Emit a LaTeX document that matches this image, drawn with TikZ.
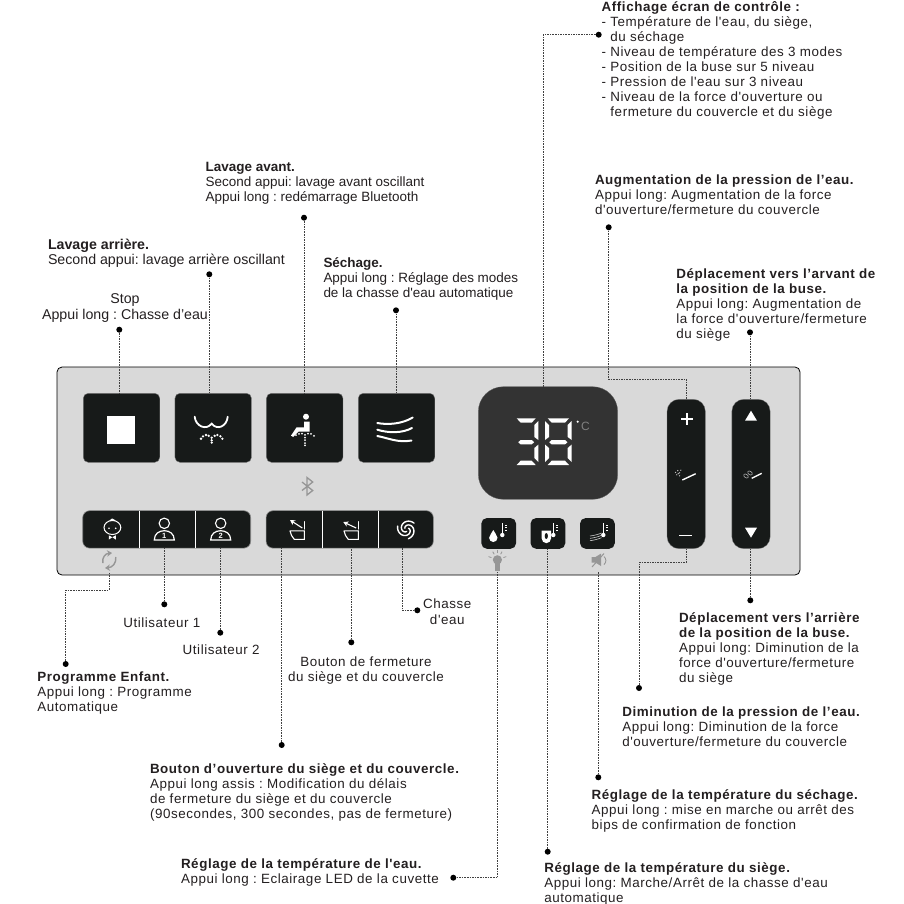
\documentclass[tikz,border=0pt]{standalone}
\usepackage{fontspec}
\setmainfont{Liberation Sans}
\newfontfamily\spacedfont[LetterSpace=4.2]{Liberation Sans}
\usepackage{xcolor}
\usetikzlibrary{arrows.meta, positioning, calc}
\definecolor{panelgray}{RGB}{217,217,217}
\definecolor{keyblack}{RGB}{23,26,25}
\definecolor{screengray}{RGB}{51,51,51}
\definecolor{inkblack}{RGB}{35,31,32}
\definecolor{iconfaint}{RGB}{150,150,150}
\tikzset{
    lbl/.style={anchor=north west, inner sep=0, outer sep=0, align=left, text=inkblack, yshift=-0.6pt,
        font=\fontsize{13.47}{15}\selectfont, execute at begin node={\frenchspacing\rule{0pt}{11.5pt}}},
    lblsp/.style={lbl, font=\fontsize{13.4}{15}\selectfont\spacedfont},
    lblwide/.style={lbl, font=\fontsize{14.2}{15}\selectfont},
    leader/.style={line width=0.8pt, dash pattern=on 1.6pt off 1pt, black!75},
    tip/.style={circle, fill=black, inner sep=0, minimum size=6pt},
    bigkey/.style={draw=black!55, line width=0.4pt, fill=keyblack, rounded corners=5pt, inner sep=0, minimum width=76.5pt, minimum height=69pt},
    lowkey/.style={draw=black!45, line width=0.6pt, fill=keyblack, rounded corners=7pt, inner sep=0, minimum height=37.5pt},
    smallkey/.style={fill=keyblack, rounded corners=5.5pt, inner sep=0, minimum width=34.7pt, minimum height=30.7pt},
    slidekey/.style={fill=keyblack, draw=black!50, line width=0.3pt, rounded corners=12pt, inner sep=0, minimum width=38.3pt, minimum height=149.4pt},
    icon/.style={draw=white, line width=1.8pt, line cap=round},
    faint/.style={draw=iconfaint, line width=1.3pt},
    seg/.style={fill=white, draw=none},
}
\begin{document}
\begin{tikzpicture}[x=1pt, y=-1pt]
    \useasboundingbox (0,0) rectangle (904,903);

    % panneau
    \node[draw=black, line width=0.8pt, fill=panelgray, rounded corners=5pt, inner sep=0,
        minimum width=743pt, minimum height=208pt] (panel) at (428.5,471) {};

    % touches
    \node[bigkey] (stopkey) at (121.5,427.8) {};
    \node[bigkey] (rearkey) at (213.2,427.8) {};
    \node[bigkey] (frontkey) at (304.7,427.8) {};
    \node[bigkey] (drykey) at (396.5,427.8) {};
    \node[lowkey, minimum width=168pt] (userbar) at (166.7,529.4) {};
    \node[lowkey, minimum width=167.3pt] (seatbar) at (349.7,529.4) {};
    \node[fill=screengray, draw=black!60, line width=0.3pt, rounded corners=25pt, inner sep=0,
        minimum width=139.4pt, minimum height=112.6pt] (screen) at (548,443) {};
    \node[smallkey] (waterkey) at (498.7,533.4) {};
    \node[smallkey] (seatkey) at (547.9,533.4) {};
    \node[smallkey] (airkey) at (597.4,533.4) {};
    \node[slidekey] (presskey) at (686.2,474) {};
    \node[slidekey] (nozzlekey) at (751,474) {};

    % separations
    \draw[white, line width=0.7pt] (139.3,510.7) -- (139.3,548);
    \draw[white, line width=0.7pt] (195.7,510.7) -- (195.7,548);
    \draw[white, line width=0.7pt] (322.7,510.7) -- (322.7,548);
    \draw[white, line width=0.7pt] (378.7,510.7) -- (378.7,548);

    % textes du haut
    \node[lblsp] (screenlbl) at (601.7,1) {\textbf{Affichage écran de contrôle :}\\- Température de l'eau, du siège,\\\phantom{- }du séchage\\- Niveau de température des 3 modes\\- Position de la buse sur 5 niveau\\- Pression de l'eau sur 3 niveau\\- Niveau de la force d'ouverture ou\\\phantom{- }fermeture du couvercle et du siège};
    \node[lblsp] (uplbl) at (595,174) {\textbf{Augmentation de la pression de l’eau.}\\Appui long: Augmentation de la force\\d'ouverture/fermeture du couvercle};
    \node[lblsp] (fwdlbl) at (676.3,268) {\textbf{Déplacement vers l’arvant de}\\\textbf{la position de la buse.}\\Appui long: Augmentation de\\la force d'ouverture/fermeture\\du siège};
    \node[lbl] (frontlbl) at (205.7,162) {\textbf{Lavage avant.}\\Second appui: lavage avant oscillant\\Appui long : redémarrage Bluetooth};
    \node[lblwide] (rearlbl) at (48,238) {\textbf{Lavage arrière.}\\Second appui: lavage arrière oscillant};
    \node[lblwide, font=\fontsize{14.2}{16}\selectfont, align=center, anchor=north] (stoplbl) at (125,293) {Stop\\Appui long : Chasse d’eau};
    \node[lbl] (drylbl) at (323.5,256.7) {\textbf{Séchage.}\\Appui long : Réglage des modes\\de la chasse d\textquotesingle eau automatique};

    % textes du bas
    \node[lblsp] (user1lbl) at (123.3,615) {Utilisateur 1};
    \node[lblsp] (user2lbl) at (182.7,642) {Utilisateur 2};
    \node[lblsp, font=\fontsize{13.4}{16}\selectfont\spacedfont, align=center, anchor=north] (flushlbl) at (447.3,598.3) {Chasse\\d'eau};
    \node[lblsp, align=center, anchor=north] (closelbl) at (366,656) {Bouton de fermeture\\du siège et du couvercle};
    \node[lblsp] (kidlbl) at (37.3,671) {\textbf{Programme Enfant.}\\Appui long : Programme\\Automatique};
    \node[lblsp] (openlbl) at (150,763) {\textbf{Bouton d’ouverture du siège et du couvercle.}\\Appui long assis : Modification du délais\\de fermeture du siège et du couvercle\\(90secondes, 300 secondes, pas de fermeture)};
    \node[lblsp] (waterlbl) at (181,858) {\textbf{Réglage de la température de l'eau.}\\Appui long : Eclairage LED de la cuvette};
    \node[lblsp] (backlbl) at (679,612) {\textbf{Déplacement vers l’arrière}\\\textbf{de la position de la buse.}\\Appui long: Diminution de la\\force d'ouverture/fermeture\\du siège};
    \node[lblsp] (downlbl) at (622.3,706) {\textbf{Diminution de la pression de l’eau.}\\Appui long: Diminution de la force\\d'ouverture/fermeture du couvercle};
    \node[lblsp] (airlbl) at (591.7,789) {\textbf{Réglage de la température du séchage.}\\Appui long : mise en marche ou arrêt des\\bips de confirmation de fonction};
    \node[lblsp] (seatlbl) at (544.3,862) {\textbf{Réglage de la température du siège.}\\Appui long: Marche/Arrêt de la chasse d'eau\\automatique};

    % points
    \node[tip] (stopdot) at (119.3,329.7) {};
    \node[tip] (reardot) at (209.3,274.3) {};
    \node[tip] (frontdot) at (304,217.7) {};
    \node[tip] (drydot) at (396,310.3) {};
    \node[tip] (screendot) at (598.7,34.7) {};
    \node[tip] (updot) at (608.7,227.3) {};
    \node[tip] (fwddot) at (750,332.3) {};
    \node[tip] (kiddot) at (65.7,664) {};
    \node[tip] (user1dot) at (164.3,604.3) {};
    \node[tip] (user2dot) at (220.3,632.7) {};
    \node[tip] (opendot) at (281.7,745) {};
    \node[tip] (closedot) at (351.3,642.3) {};
    \node[tip] (flushdot) at (417.3,610.3) {};
    \node[tip] (waterdot) at (453.3,877.7) {};
    \node[tip] (seatdot) at (547.7,851.7) {};
    \node[tip] (airdot) at (598.3,777.3) {};
    \node[tip] (downdot) at (639,688) {};
    \node[tip] (backdot) at (750.3,600.3) {};

    % coudes et departs sous les pictos
    \coordinate (screenbend) at (543,34.7);
    \coordinate (upbend) at (608.7,379.3);
    \coordinate (downbend) at (639,562.7);
    \coordinate (kidbend) at (65.7,590);
    \coordinate (kidstart) at (109,573);
    \coordinate (bulbstart) at (497.7,572);
    \coordinate (mutestart) at (598.3,572);
    \coordinate (flushbend) at (402,610.3);

    % traits
    \draw[leader] (stopdot) -- (stopdot |- stopkey.north);
    \draw[leader] (reardot) -- (reardot |- rearkey.north);
    \draw[leader] (frontdot) -- (frontdot |- frontkey.north);
    \draw[leader] (drydot) -- (drydot |- drykey.north);
    \draw[leader] (screendot) -- (screenbend) -- (screenbend |- screen.north);
    \draw[leader] (updot) -- (upbend) -- (upbend -| presskey.north) -- (presskey.north);
    \draw[leader] (fwddot) -- (fwddot |- nozzlekey.north);
    \draw[leader] (kiddot) -- (kidbend) -- (kidbend -| kidstart) -- (kidstart);
    \draw[leader] (user1dot) -- (user1dot |- userbar.south);
    \draw[leader] (user2dot) -- (user2dot |- userbar.south);
    \draw[leader] (opendot) -- (opendot |- seatbar.south);
    \draw[leader] (closedot) -- (closedot |- seatbar.south);
    \draw[leader] (flushdot) -- (flushbend) -- (flushbend |- seatbar.south);
    \draw[leader] (waterdot) -- (waterdot -| bulbstart) -- (bulbstart);
    \draw[leader] (seatdot) -- (seatdot |- seatkey.south);
    \draw[leader] (airdot) -- (mutestart);
    \draw[leader] (downdot) -- (downbend) -- (downbend -| presskey.south) -- (presskey.south);
    \draw[leader] (backdot) -- (backdot |- nozzlekey.south);

    % stop
    \fill[white] (107.3,416) rectangle (135,444);

    % lavage arriere
    \draw[icon] (194.7,416.7) .. controls (195.5,426) and (206,431) .. (211.7,423.6) .. controls (217.4,431) and (227,426) .. (227.7,416.7);
    \foreach \dx/\dy in {201/438.7,203/436.3,206/435,208.7/435.8,211.7/437.7,214.7/435.8,217.4/435,220.4/436.3,222.4/438.7,211.7/440.3,211.7/442.6}
        \fill[white] (\dx,\dy) circle (1.3pt);

    % lavage avant
    \fill[white] (306,416.7) circle (3pt);
    \fill[white] (304,421.7) -- (309.6,421.7) -- (309.6,431.7) -- (298.3,431.7) -- (293.2,437) -- (291,435.6) -- (296.6,427.3) -- (304,427.3) -- cycle;
    \foreach \dx/\dy in {296/435.2,299/433.8,302/433.6,305/434.8,308/433.6,311/433.8,314/435.8,305/437.6,305/440.2,305/443,305/445.4}
        \fill[white] (\dx,\dy) circle (1pt);

    % sechage
    \draw[icon, line width=2pt] (377.3,423) .. controls (388,425) and (402,424) .. (412.7,417.5);
    \draw[icon, line width=2pt] (377.3,429.7) .. controls (388,433) and (402,433.5) .. (412,428);
    \draw[icon, line width=2pt] (377.3,436) .. controls (388,438) and (398,443) .. (411.5,440.5);

    % bluetooth
    \draw[faint] (302,482) -- (312.7,490.5) -- (307,495) -- (307,477.5) -- (312.7,482) -- (302,490.5);

    % enfant
    \draw[icon, line width=1pt] (112.4,527.5) ellipse (8.4pt and 7pt);
    \draw[icon, line width=1pt] (110,520.6) .. controls (111,518.5) and (113,518.5) .. (115,520.6);
    \fill[white] (109,528.3) circle (0.9pt);
    \fill[white] (115.7,528.3) circle (0.9pt);
    \fill[white] (108.8,535.3) -- (112.3,537.2) -- (108.8,539.6) -- cycle;
    \fill[white] (115.8,535.3) -- (112.3,537.2) -- (115.8,539.6) -- cycle;
    \draw[faint, line width=1.4pt, -{Stealth[length=5pt,width=6.5pt]}] (102.8,563) .. controls (102,557) and (105.5,553.5) .. (112,553);
    \draw[faint, line width=1.4pt, -{Stealth[length=5pt,width=6.5pt]}] (115.8,557) .. controls (116.5,563) and (112.5,567.5) .. (105,568);

    % utilisateurs
    \foreach \ux/\un in {164.3/1,220.7/2} {
        \draw[icon, line width=1.1pt] (\ux,523.3) circle (5.2pt);
        \draw[icon, line width=1.2pt] ({\ux-10},540) .. controls ({\ux-10},533.5) and ({\ux-5},530.7) .. (\ux,530.7) .. controls ({\ux+5},530.7) and ({\ux+10},533.5) .. ({\ux+10},540) -- cycle;
        \node[inner sep=0, text=white, font=\fontsize{7.5}{7.5}\selectfont\bfseries] (usernum\un) at (\ux,535.8) {\un};
    }

    % ouverture, fermeture
    \foreach \sx in {304.3,358.3} {
        \draw[icon, line width=1.1pt] ({\sx-14.3},530.9) -- (\sx,530.9) -- (\sx,539.4) -- ({\sx-10},539.4) .. controls ({\sx-12},537) and ({\sx-14},534) .. ({\sx-14.3},530.9);
        \draw[icon, line width=1.1pt] (\sx,521.7) -- (\sx,529);
    }
    \draw[icon, line width=1.1pt, line cap=butt, -{Stealth[length=5pt,width=5.5pt]}] (302.3,528) -- (290,520);
    \draw[icon, line width=1.1pt, line cap=butt, -{Stealth[length=5pt,width=5.5pt]}] (356.2,528) -- (343.3,522);

    % chasse
    \foreach \a in {-40,80,200}
        \draw[icon, line width=1.4pt] plot[domain=0:230, samples=24, smooth] ({406.7+(9.6-\x*0.033)*cos(\a-\x)},{529.3+(9.6-\x*0.033)*sin(\a-\x)});

    % ecran 38
    \foreach \xa/\xb in {516.7/535.7,547.7/569} {
        \fill[seg] (\xa,418.3) -- (\xb,418.3) -- ({\xb-4},422.7) -- ({\xa+4},422.7) -- cycle;
        \fill[seg] (\xa,465) -- (\xb,465) -- ({\xb-4},460.7) -- ({\xa+4},460.7) -- cycle;
        \fill[seg] ({\xa+1.5},442.2) -- ({\xa+4},440) -- ({\xb-4},440) -- ({\xb-1.5},442.2) -- ({\xb-4},444.4) -- ({\xa+4},444.4) -- cycle;
        \fill[seg] ({\xb+2.7},421) -- ({\xb+2.7},440) -- ({\xb-1.3},437) -- ({\xb-1.3},425) -- cycle;
        \fill[seg] ({\xb+2.7},444.5) -- ({\xb+2.7},462) -- ({\xb-1.3},458) -- ({\xb-1.3},448) -- cycle;
    }
    \fill[seg] (545,421) -- (545,440) -- (549,437) -- (549,425) -- cycle;
    \fill[seg] (545,444.5) -- (545,462) -- (549,458) -- (549,448) -- cycle;
    \fill[white] (577.7,421.7) circle (1.2pt);
    \node[inner sep=0, text=black!50, font=\fontsize{12}{12}\selectfont] (degc) at (585.4,426.7) {C};

    % thermometres
    \foreach \tx in {502.3,553.3,603.3} {
        \draw[white, line width=1pt] (\tx,523.3) -- (\tx,535);
        \fill[white] (\tx,535) circle (2.2pt);
        \foreach \ty in {525,527.5,530}
            \draw[white, line width=0.6pt] ({\tx+2.5},\ty) -- ({\tx+4.5},\ty);
    }
    \fill[white] (493.3,530) .. controls (494,533) and (497.5,534.5) .. (497.5,537.8) arc[start angle=0, end angle=-180, radius=4.2pt] .. controls (489.1,534.5) and (492.6,533) .. (493.3,530);
    \fill[white] (541.7,530.7) -- (551,530.7) -- (551,538.5) arc[start angle=0, end angle=-180, radius=4.65pt] -- cycle;
    \fill[keyblack] (546.3,536) ellipse (1.6pt and 3pt);
    \foreach \wy in {0,2.6,5.2}
        \draw[white!80!black, line width=0.6pt] (590,{536+\wy*0.9}) .. controls (594,{535.5+\wy*0.9}) and (598,{534.5+\wy*0.9}) .. (601.5,{533+\wy*0.9});

    % ampoule, muet
    \fill[iconfaint] (497.4,559.8) circle (4.6pt);
    \fill[iconfaint] (494.6,562) -- (500.2,562) -- (500.2,570.5) -- (494.6,570.5) -- cycle;
    \foreach \ra in {200,240,270,300,340}
        \draw[iconfaint, line width=0.8pt] ({497.4+6.4*cos(\ra)},{559.8+6.4*sin(\ra)}) -- ({497.4+9.4*cos(\ra)},{559.8+9.4*sin(\ra)});
    \fill[iconfaint] (591.7,557) -- (595.5,557) -- (601,553.6) -- (601,566) -- (595.5,562.6) -- (591.7,562.6) -- cycle;
    \draw[iconfaint, line width=1pt] (592,567) -- (604,553.5);
    \draw[iconfaint, line width=0.9pt] (604,556.5) .. controls (606.5,559) and (606.5,562) .. (604,564.6);

    % pression
    \draw[white, line width=1.5pt] (681,419) -- (693,419);
    \draw[white, line width=1.5pt] (687,413) -- (687,425);
    \draw[white, line width=1.5pt] (679.3,535.7) -- (692,535.7);
    \draw[white, line width=1.4pt] (682.3,480) -- (695.7,473.7);
    \foreach \dx/\dy in {675.6/472.4,677.8/470.6,679.6/472.8,676.8/474.8,679.6/475.8,680.8/470.2,678.2/473.6}
        \fill[white!75!black] (\dx,\dy) circle (0.7pt);

    % buse
    \fill[white] (745,420.7) -- (757,420.7) -- (751,410.7) -- cycle;
    \fill[white] (745,527.7) -- (757,527.7) -- (751,537.7) -- cycle;
    \draw[white, line width=1.4pt] (751.7,478.3) -- (761.7,473.3);
    \draw[white!70!black, line width=0.6pt, rotate around={-35:(746,476)}] (746,476) ellipse (2.6pt and 1.7pt);
    \draw[white!70!black, line width=0.6pt, rotate around={-35:(750,473)}] (750,473) ellipse (2.6pt and 1.7pt);
\end{tikzpicture}
\end{document}
